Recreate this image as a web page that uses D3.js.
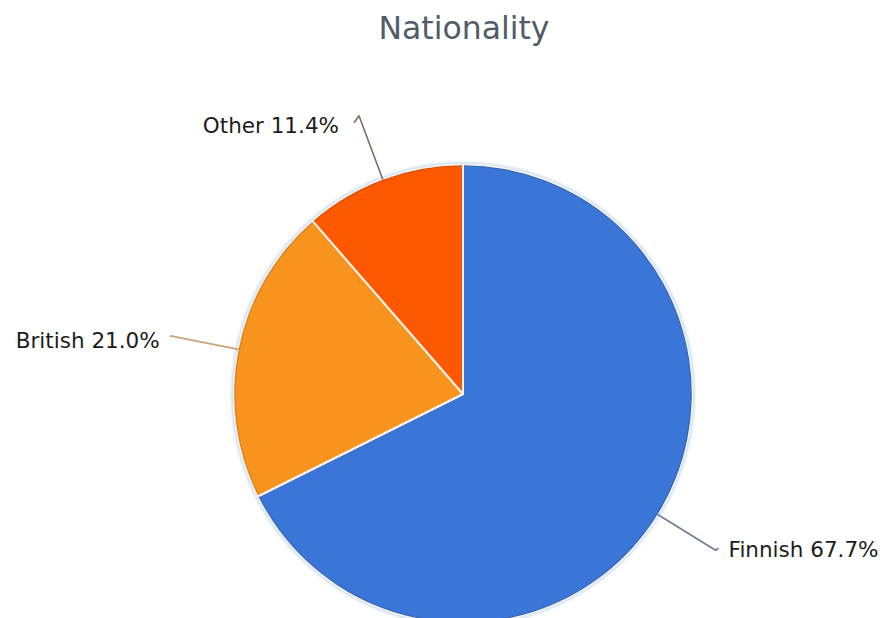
<!DOCTYPE html>
<html>
<head>
<meta charset="utf-8">
<script src="https://cdn.jsdelivr.net/npm/d3@7"></script>
<style>
  html, body { margin: 0; padding: 0; background: #fff; overflow: hidden; }
  svg { display: block; }
</style>
</head>
<body>
<svg id="chart" width="886" height="618"></svg>
<script>
// Nationality breakdown (percent)
const categories = ["Finnish", "British", "Other"];
const shares = [67.7, 21.0, 11.4];
const sliceColors = ["#3a76d8", "#f8931e", "#fe5800"];
const leaderColors = ["#6f7d92", "#c9a47a", "#86695b"];

const width = 886, height = 618;
const cx = 463, cy = 394, radius = 229;
const leaderOuter = 297;

const svg = d3.select("#chart");

svg.append("text")
  .attr("x", 464)
  .attr("y", 39)
  .attr("text-anchor", "middle")
  .attr("font-family", "DejaVu Sans")
  .attr("font-size", 31.5)
  .attr("fill", "#505c68")
  .text("Nationality");

const pie = d3.pie().sort(null).value(d => d.value);
const data = categories.map((c, i) => ({ name: c, value: shares[i], i }));
const arcs = pie(data);

const arc = d3.arc().innerRadius(0).outerRadius(radius);

const defs = svg.append("defs");
defs.append("filter").attr("id", "soft")
  .append("feGaussianBlur").attr("stdDeviation", 1.2);

const g = svg.append("g").attr("transform", `translate(${cx},${cy})`);

// soft halo round the pie
g.append("circle")
  .attr("r", radius + 1.5)
  .attr("fill", "none")
  .attr("stroke", "#cfe0f3")
  .attr("stroke-width", 3)
  .attr("filter", "url(#soft)");

g.selectAll("path.slice")
  .data(arcs)
  .join("path")
  .attr("class", "slice")
  .attr("d", arc)
  .attr("fill", d => sliceColors[d.data.i])
  .attr("stroke", "#fbf3ea")
  .attr("stroke-width", 2)
  .attr("stroke-linejoin", "round");

// slightly darker rim on each slice
const rim = d3.arc().innerRadius(radius - 1.5).outerRadius(radius - 0.2);
g.selectAll("path.rim")
  .data(arcs)
  .join("path")
  .attr("class", "rim")
  .attr("d", d => rim({ startAngle: d.startAngle + 0.004, endAngle: d.endAngle - 0.004 }))
  .attr("fill", d => d3.color(sliceColors[d.data.i]).darker(0.4));

// leader lines and labels
const labelSpec = {
  Finnish: { tick: [3, -2], dx: 13, dy: 7, anchor: "start" },
  British: { tick: [-2, 0], dx: -12, dy: 12, anchor: "end" },
  Other: { tick: [-5, 7], dx: -20, dy: 17, anchor: "end" }
};

arcs.forEach(d => {
  const mid = (d.startAngle + d.endAngle) / 2;
  const p0 = [radius * Math.sin(mid), -radius * Math.cos(mid)];
  const p1 = [leaderOuter * Math.sin(mid), -leaderOuter * Math.cos(mid)];
  const s = labelSpec[d.data.name];
  const p2 = [p1[0] + s.tick[0], p1[1] + s.tick[1]];
  g.append("path")
    .attr("d", d3.line()([p0, p1, p2]))
    .attr("fill", "none")
    .attr("stroke", leaderColors[d.data.i])
    .attr("stroke-width", 1.6)
    .attr("stroke-linejoin", "round");
  g.append("text")
    .attr("x", p1[0] + s.dx)
    .attr("y", p1[1] + s.dy)
    .attr("text-anchor", s.anchor)
    .attr("font-family", "DejaVu Sans")
    .attr("font-size", 21.5)
    .attr("fill", "#1c1c1c")
    .text(`${d.data.name} ${d3.format(".1f")(d.data.value)}%`);
});
</script>
</body>
</html>
